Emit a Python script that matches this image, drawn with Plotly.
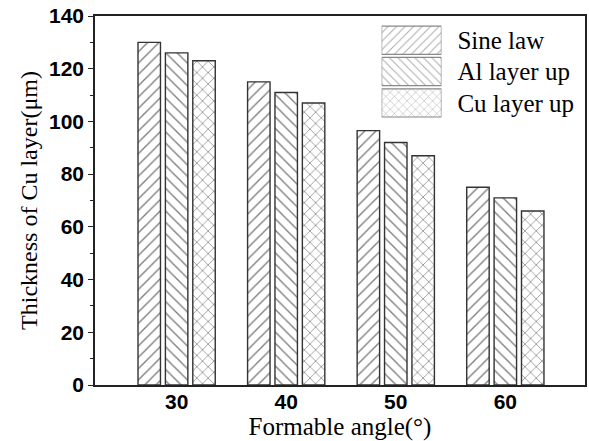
import plotly.graph_objects as go

categories = ["30", "40", "50", "60"]
series_names = ["Sine law", "Al layer up", "Cu layer up"]
sine_law = [130, 115, 96.5, 75]
al_layer_up = [126, 111, 92, 71]
cu_layer_up = [123, 107, 87, 66]
patterns = ["/", "\\", "x"]

EDGE = "#333333"
fig = go.Figure()
for name, vals, pat in zip(series_names, [sine_law, al_layer_up, cu_layer_up], patterns):
    fig.add_trace(go.Bar(
        x=categories, y=vals, name=name, showlegend=False,
        marker=dict(color="white",
                    line=dict(color=EDGE, width=1.4),
                    pattern=dict(shape=pat, fgcolor="#000000", bgcolor="white",
                                 size=8, solidity=0.17)),
    ))

# legend drawn as a small key chart: one swatch per series
fig.add_trace(go.Bar(
    x=[1] * len(series_names), y=series_names, orientation="h", xaxis="x2", yaxis="y2",
    width=0.9, showlegend=False, hoverinfo="skip",
    marker=dict(color="white",
                line=dict(color="#888888", width=1.2),
                pattern=dict(shape=patterns, fgcolor="#555555", bgcolor="white",
                             size=6, solidity=0.16)),
))

fig.update_layout(
    width=589, height=441,
    margin=dict(l=95, r=2, t=16, b=56),
    plot_bgcolor="white", paper_bgcolor="white",
    barmode="group", bargap=0.25, bargroupgap=0.18,
    xaxis=dict(type="category", range=[-0.745, 3.727],
               showline=True, linecolor="#222", linewidth=1.5, mirror=True,
               ticks="", ticklabelstandoff=-3,
               tickfont=dict(family="Liberation Sans", size=21, color="black", weight="bold"),
               title=dict(text="Formable angle(°)", font=dict(family="Liberation Serif", size=25, color="black"), standoff=2)),
    yaxis=dict(range=[0, 140], dtick=20, showgrid=False, zeroline=False,
               showline=True, linecolor="#222", linewidth=1.5, mirror=True,
               ticks="outside", ticklen=5, tickwidth=1.3, tickcolor="#222",
               minor=dict(dtick=10, ticks="outside", ticklen=3, tickcolor="#222"),
               tickfont=dict(family="Liberation Sans", size=21, color="black", weight="bold"),
               title=dict(text="Thickness of Cu layer(μm)", font=dict(family="Liberation Serif", size=24, color="black"), standoff=5)),
    xaxis2=dict(domain=[0.585, 0.707], anchor="y2", range=[0, 1], visible=False, fixedrange=True),
    yaxis2=dict(domain=[0.722, 0.977], anchor="x2", side="right", type="category",
                categoryorder="array", categoryarray=series_names[::-1],
                showline=False, showgrid=False, zeroline=False,
                ticks="outside", ticklen=10, tickcolor="rgba(0,0,0,0)",
                tickfont=dict(family="Liberation Serif", size=25, color="black")),
)
fig.write_html("out.html")
